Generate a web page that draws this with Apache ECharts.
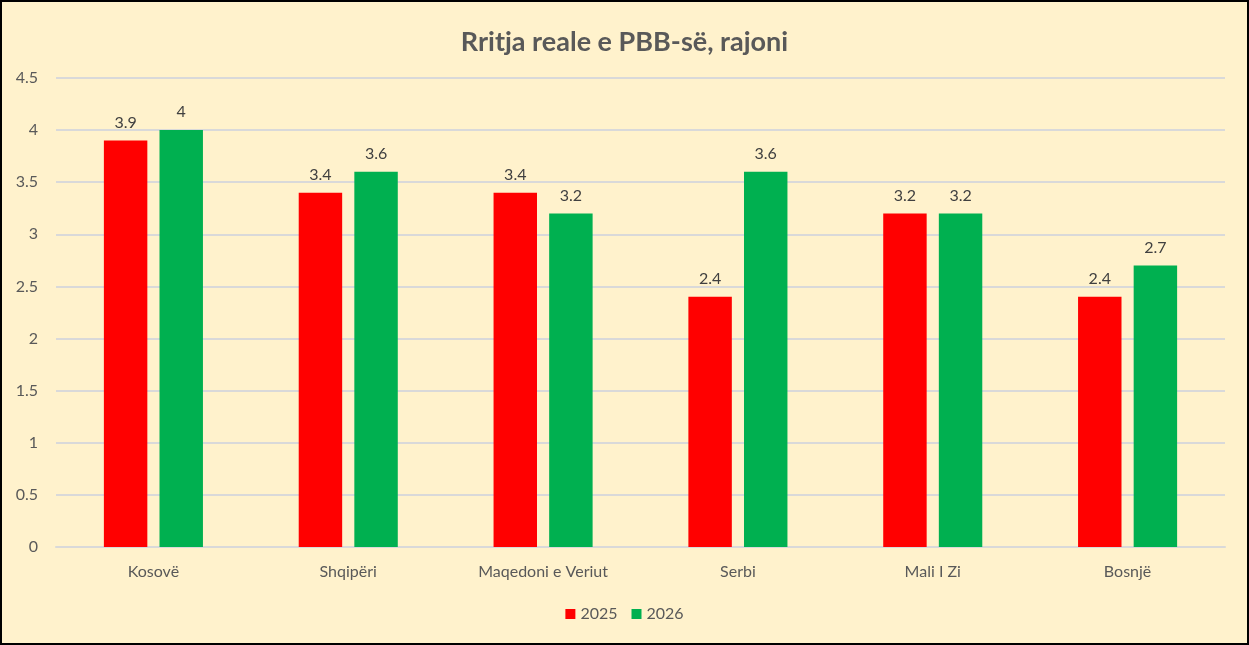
<!DOCTYPE html>
<html><head><meta charset="utf-8">
<script src="https://cdn.jsdelivr.net/npm/echarts@6/dist/echarts.min.js"></script>
<style>html,body{margin:0;padding:0;background:#FFF2CC;}#c{width:1249px;height:645px;box-sizing:border-box;border:2px solid #000;}</style>
</head><body><div id="c"></div>
<script>
const categories = ['Kosovë','Shqipëri','Maqedoni e Veriut','Serbi','Mali I Zi','Bosnjë'];
const values2025 = [3.9, 3.4, 3.4, 2.4, 3.2, 2.4];
const values2026 = [4, 3.6, 3.2, 3.6, 3.2, 2.7];
const yTicks = [0, 0.5, 1, 1.5, 2, 2.5, 3, 3.5, 4, 4.5];
const font = 'Lato, "Noto Sans", sans-serif';
const chart = echarts.init(document.getElementById('c'));
const lbl = {show:true, position:'top', distance:10, color:'#404040', fontSize:16, fontFamily:font};
chart.setOption({
  backgroundColor:'#FFF2CC',
  title:{text:'Rritja reale e PBB-së, rajoni', left:'center', top:22,
    textStyle:{fontFamily:font, fontSize:27, fontWeight:'bold', color:'#595959'}},
  legend:{bottom:16, left:'center', itemWidth:10, itemHeight:10, itemGap:14,
    textStyle:{fontFamily:font, fontSize:16, color:'#595959'},
    data:[{name:'2025', icon:'rect'},{name:'2026', icon:'rect'}]},
  grid:{left:54, right:22, top:76, bottom:96, containLabel:false},
  xAxis:{type:'category', data:categories,
    axisLine:{show:true, lineStyle:{color:'#D9D9D9', width:2}}, axisTick:{show:false},
    axisLabel:{fontFamily:font, fontSize:16, color:'#595959', margin:17}},
  yAxis:{type:'value', min:yTicks[0], max:yTicks[yTicks.length-1], interval:0.5,
    axisLine:{show:false}, axisTick:{show:false},
    axisLabel:{fontFamily:font, fontSize:16, color:'#595959', margin:18},
    splitLine:{lineStyle:{color:'#D9D9D9', width:2}}},
  series:[
    {name:'2025', type:'bar', data:values2025, itemStyle:{color:'#FF0000'}, barWidth:'22.3%', barGap:'28%', label:lbl},
    {name:'2026', type:'bar', data:values2026, itemStyle:{color:'#00B050'}, barWidth:'22.3%', barGap:'28%', label:lbl}
  ]
});
</script></body></html>
